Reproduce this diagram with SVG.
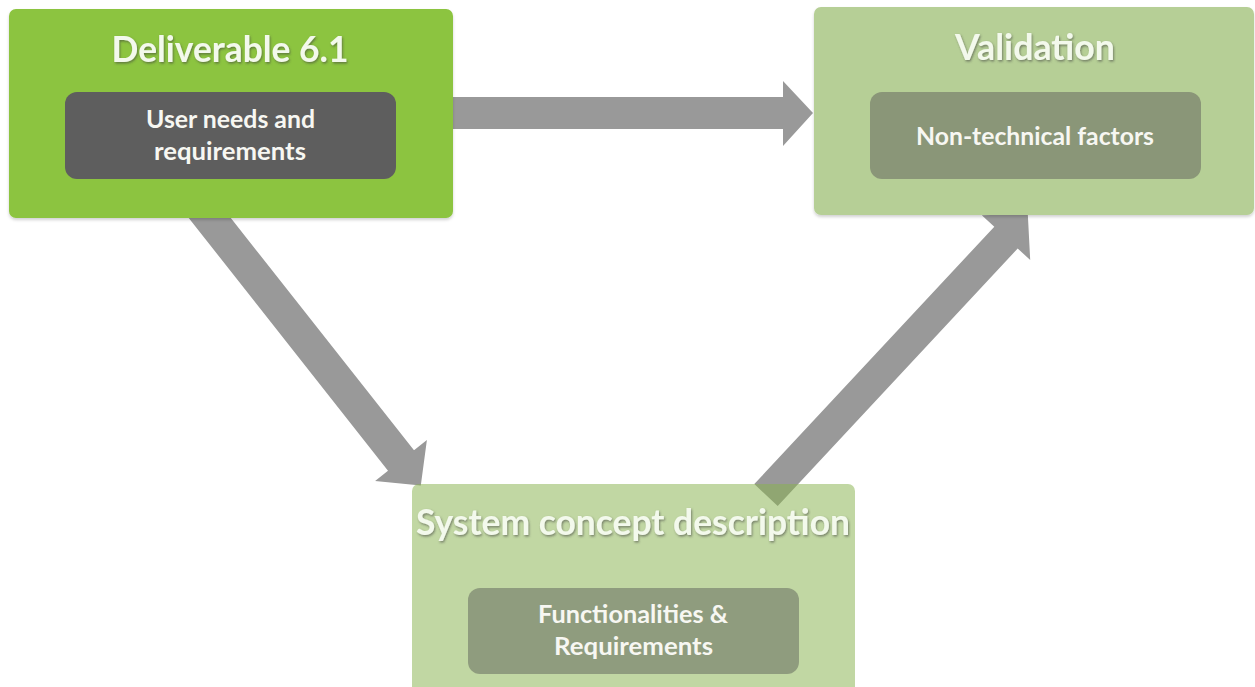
<svg xmlns="http://www.w3.org/2000/svg" width="1255" height="687" viewBox="0 0 1255 687">
  <defs>
    <filter id="boxShadow" x="-5%" y="-5%" width="110%" height="115%">
      <feDropShadow dx="0" dy="2" stdDeviation="1.5" flood-color="#000" flood-opacity="0.18"/>
    </filter>
    <filter id="textShadow" x="-5%" y="-20%" width="110%" height="140%">
      <feDropShadow dx="1" dy="1.5" stdDeviation="0.8" flood-color="#3a3a3a" flood-opacity="0.55"/>
    </filter>
  </defs>
  <style>
    .title { font-family: Lato, "Liberation Sans", sans-serif; font-weight: bold; font-size: 36px; fill: #f3f9ec; text-anchor: middle; }
    .label { font-family: Lato, "Liberation Sans", sans-serif; font-weight: bold; font-size: 24px; fill: #f7f7f2; text-anchor: middle; }
    .arrow { fill: #999999; }
  </style>
  <rect width="1255" height="687" fill="#ffffff"/>

  <!-- connectors -->
  <g id="connectors">
    <polygon class="arrow" points="440,97 783,97 783,81 813,113 783,146 783,129 440,129"/>
    <polygon class="arrow" points="182.6,210.2 208.6,189.8 414,450.3 426.9,440.1 420.8,485.6 375.1,480.9 388,470.7"/>
    <polygon class="arrow" points="754.3,484.1 994.3,226.7 981.8,215.2 1027.8,214.1 1030.2,260 1017.7,248.5 777.7,505.9"/>
  </g>

  <!-- Deliverable 6.1 -->
  <g id="node-deliverable">
    <rect x="9" y="9" width="444" height="209" rx="7" fill="#8cc43f" filter="url(#boxShadow)"/>
    <text class="title" x="230" y="62" textLength="237" lengthAdjust="spacingAndGlyphs" filter="url(#textShadow)">Deliverable 6.1</text>
    <rect x="65" y="92" width="331" height="87" rx="12" fill="#5e5e5e"/>
    <text class="label" x="230.5" y="128" textLength="169" lengthAdjust="spacingAndGlyphs">User needs and</text>
    <text class="label" x="230" y="160" textLength="152" lengthAdjust="spacingAndGlyphs">requirements</text>
  </g>

  <!-- Validation -->
  <g id="node-validation">
    <rect x="814" y="7" width="440" height="208" rx="7" fill="#b6cf96" filter="url(#boxShadow)"/>
    <text class="title" x="1035" y="60" textLength="160" lengthAdjust="spacingAndGlyphs" filter="url(#textShadow)">Validation</text>
    <rect x="870" y="92" width="331" height="87" rx="12" fill="#8a9678"/>
    <text class="label" x="1035" y="145" textLength="238" lengthAdjust="spacingAndGlyphs">Non-technical factors</text>
  </g>

  <!-- System concept description (translucent, the connector tail shows through) -->
  <g id="node-system-concept">
    <rect x="412" y="484" width="443" height="215" rx="7" fill="#88b24f" fill-opacity="0.52"/>
    <text class="title" x="633" y="535" textLength="434" lengthAdjust="spacingAndGlyphs" filter="url(#textShadow)">System concept description</text>
    <rect x="468" y="588" width="331" height="86" rx="12" fill="#8f9c7e"/>
    <text class="label" x="633" y="623" textLength="190" lengthAdjust="spacingAndGlyphs">Functionalities &amp;</text>
    <text class="label" x="633.5" y="655" textLength="159" lengthAdjust="spacingAndGlyphs">Requirements</text>
  </g>
</svg>
